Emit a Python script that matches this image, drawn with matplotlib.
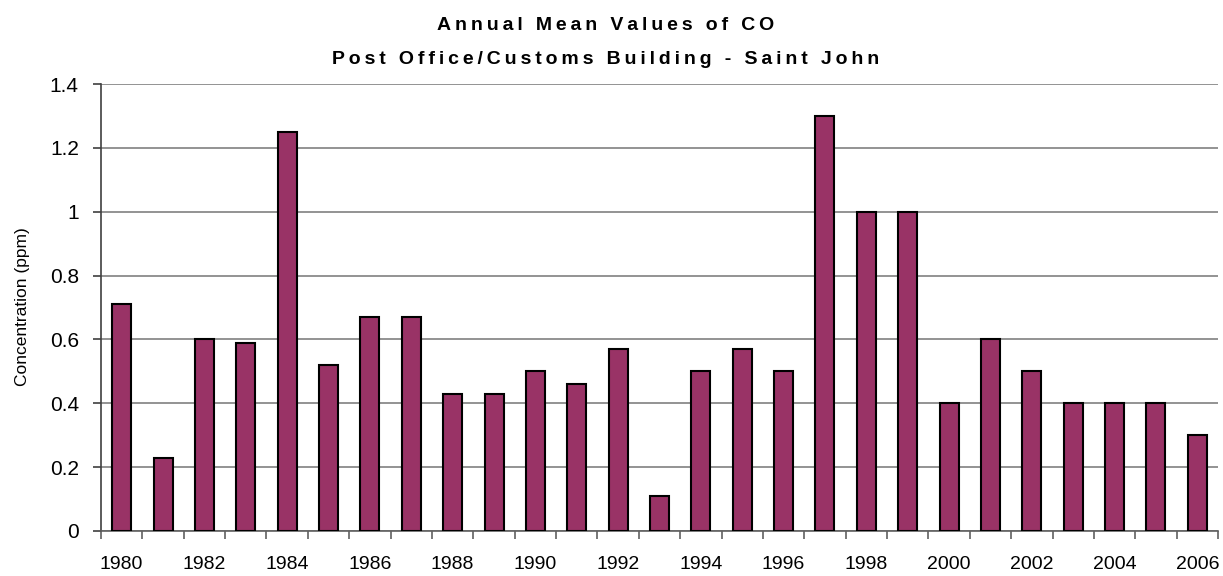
import matplotlib
matplotlib.use('Agg')
import matplotlib.pyplot as plt
import numpy as np

years = list(range(1980, 2007))
co_ppm = [0.71, 0.23, 0.60, 0.59, 1.25, 0.52, 0.67, 0.67, 0.43, 0.43,
          0.50, 0.46, 0.57, 0.11, 0.50, 0.57, 0.50, 1.30, 1.00, 1.00,
          0.40, 0.60, 0.50, 0.40, 0.40, 0.40, 0.30]
y_ticks = [0, 0.2, 0.4, 0.6, 0.8, 1, 1.2, 1.4]
y_tick_labels = ['0', '0.2', '0.4', '0.6', '0.8', '1', '1.2', '1.4']
title_lines = ['Annual Mean Values of CO', 'Post Office/Customs Building - Saint John']

plt.rcParams['font.family'] = ['Liberation Sans', 'DejaVu Sans']


def spaced(s):
    # the original title is letter-spaced, imitate it with thin spaces
    return '\u2009'.join(s)


fig = plt.figure(figsize=(12.23, 5.76), dpi=100)
ax = fig.add_axes([101 / 1223, 1 - 531 / 576, (1218 - 101) / 1223, (531 - 84) / 576])

x = np.arange(len(years))
ax.bar(x, co_ppm, width=0.46, color='#993366', edgecolor='black', linewidth=1.5, zorder=3)

ax.set_xlim(-0.5, len(years) - 0.5)
ax.set_ylim(0, 1.4)
ax.set_yticks(y_ticks)
ax.set_yticklabels(y_tick_labels, fontsize=15)
ax.yaxis.grid(True, color='#808080', linewidth=1.2, zorder=0)

# year labels every second bar, tick marks between categories
ax.set_xticks(x[::2])
ax.set_xticklabels([str(y) for y in years[::2]], fontsize=14)
ax.set_xticks(np.arange(-0.5, len(years), 1), minor=True)
ax.tick_params(axis='x', which='major', length=0, pad=18)
ax.tick_params(axis='x', which='minor', length=6, width=1.2, color='#606060', direction='out')
ax.tick_params(axis='y', length=6, width=1.2, color='#404040', pad=10)

for side in ['top', 'right']:
    ax.spines[side].set_visible(False)
ax.spines['left'].set_color('#404040')
ax.spines['left'].set_linewidth(1.2)
ax.spines['bottom'].set_color('#606060')
ax.spines['bottom'].set_linewidth(1.2)

fig.text(23 / 1223, 1 - 307 / 576, 'Concentration (ppm)', rotation=90, ha='center', va='center',
         fontsize=12.5)

fig.text(606 / 1223, 1 - 25 / 576, spaced(title_lines[0]), ha='center', va='center',
         fontsize=14, fontweight='bold')
fig.text(606 / 1223, 1 - 59 / 576, spaced(title_lines[1]), ha='center', va='center',
         fontsize=14, fontweight='bold')

fig.savefig('out.png', dpi=100)
